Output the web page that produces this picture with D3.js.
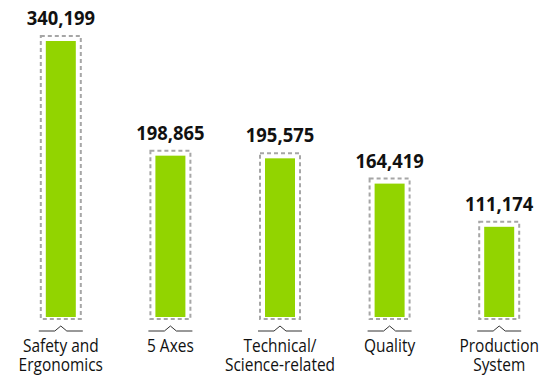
<!DOCTYPE html>
<html>
<head>
<meta charset="utf-8">
<script src="https://cdn.jsdelivr.net/npm/d3@7"></script>
<style>
  html, body { margin: 0; padding: 0; background: #fff; }
  svg { display: block; }
  text { font-family: "Open Sans", "DejaVu Sans", sans-serif; fill: #111; }
</style>
</head>
<body>
<svg id="chart" width="545" height="379"></svg>
<script>
// Category names (line-broken) and their totals
const categories = [
  ["Safety and", "Ergonomics"],
  ["5 Axes"],
  ["Technical/", "Science-related"],
  ["Quality"],
  ["Production", "System"]
];
const values = [340199, 198865, 195575, 164419, 111174];

const W = 545, H = 379;
const baseline = 317;
const topY = 41;

const svg = d3.select("#chart");

const x = d3.scaleBand()
  .domain(d3.range(values.length))
  .range([6, 554])
  .paddingInner(0)
  .paddingOuter(0);

const y = d3.scaleLinear()
  .domain([0, d3.max(values)])
  .range([baseline, topY]);

const barW = 30;
const fmt = d3.format(",");

const g = svg.selectAll("g.bar")
  .data(values)
  .join("g")
  .attr("class", "bar")
  .attr("transform", (d, i) => `translate(${x(i) + x.bandwidth() / 2},0)`);

// dashed frame around each bar
g.append("rect")
  .attr("x", -barW / 2 - 5)
  .attr("y", d => y(d) - 5)
  .attr("width", barW + 10)
  .attr("height", d => baseline - y(d) + 7)
  .attr("fill", "none")
  .attr("stroke", "#a6a6a6")
  .attr("stroke-width", 2)
  .attr("stroke-dasharray", "4,3");

// the bar itself
g.append("rect")
  .attr("x", -barW / 2)
  .attr("y", d => y(d))
  .attr("width", barW)
  .attr("height", d => baseline - y(d))
  .attr("fill", "#92d400");

// value label (slightly condensed)
g.append("g")
  .attr("transform", d => `translate(0,${y(d) - 16}) scale(0.92,1)`)
  .append("text")
  .attr("text-anchor", "middle")
  .attr("font-size", 20)
  .attr("font-weight", "bold")
  .text(d => fmt(d));

// bracket with a small caret under each bar
g.append("path")
  .attr("d", "M-22,331 H-6 L0,326 L6,331 H22")
  .attr("fill", "none")
  .attr("stroke", "#333")
  .attr("stroke-width", 1);

// category label (slightly condensed)
g.append("g")
  .attr("transform", "translate(0,0) scale(0.86,1)")
  .append("text")
  .attr("text-anchor", "middle")
  .attr("font-size", 18)
  .selectAll("tspan")
  .data((d, i) => categories[i])
  .join("tspan")
  .attr("x", 0)
  .attr("y", (d, j) => 352.5 + j * 19)
  .text(d => d);
</script>
</body>
</html>
